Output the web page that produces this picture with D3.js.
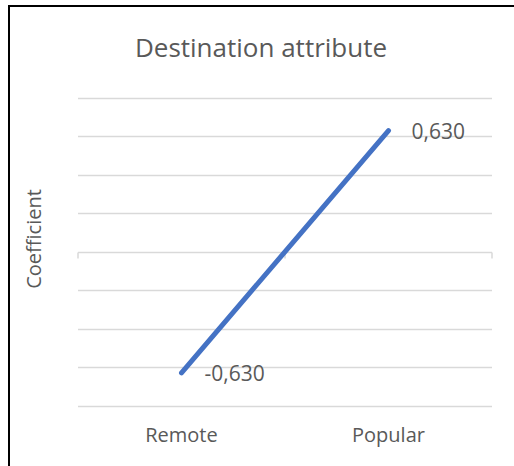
<!DOCTYPE html>
<html>
<head>
<meta charset="utf-8">
<script src="https://cdn.jsdelivr.net/npm/d3@7"></script>
<style>
  body { margin: 0; background: #fff; }
  text { font-family: "Open Sans", sans-serif; fill: #595959; }
</style>
</head>
<body>
<div id="chart"></div>
<script>
// Data
var categories = ["Remote", "Popular"];
var values = [-0.630, 0.630];
var labels = ["-0,630", "0,630"];
var gridTicks = [-0.8, -0.6, -0.4, -0.2, 0, 0.2, 0.4, 0.6, 0.8];

var W = 514, H = 466;
var plot = {left: 78, right: 492, top: 98, bottom: 405.5};

var svg = d3.select("#chart")
  .append("svg")
  .attr("width", W)
  .attr("height", H);

// outer frame (only left/top visible in picture)
svg.append("rect")
  .attr("x", 9).attr("y", 6)
  .attr("width", W + 10).attr("height", H + 10)
  .attr("fill", "#fff")
  .attr("stroke", "#000")
  .attr("stroke-width", 2);

var x = d3.scaleBand()
  .domain(categories)
  .range([plot.left, plot.right]);

var y = d3.scaleLinear()
  .domain([-0.8, 0.8])
  .range([plot.bottom, plot.top]);

// gridlines
svg.append("g")
  .selectAll("line")
  .data(gridTicks.filter(function(d) { return d !== 0; }))
  .enter().append("line")
  .attr("x1", plot.left).attr("x2", plot.right)
  .attr("y1", function(d) { return Math.round(y(d)) + 0.5; })
  .attr("y2", function(d) { return Math.round(y(d)) + 0.5; })
  .attr("stroke", "#d9d9d9")
  .attr("stroke-width", 1.3);

// category axis on zero line
var xAxis = svg.append("g")
  .attr("transform", "translate(0," + (Math.round(y(0)) + 0.5) + ")");
xAxis.append("line")
  .attr("x1", plot.left).attr("x2", plot.right)
  .attr("stroke", "#d9d9d9").attr("stroke-width", 1.5);
var bounds = categories.map(function(c) { return x(c); }).concat([plot.right]);
xAxis.selectAll(".tick")
  .data(bounds)
  .enter().append("line")
  .attr("x1", function(d) { return d; }).attr("x2", function(d) { return d; })
  .attr("y1", 0).attr("y2", 6)
  .attr("stroke", "#d9d9d9").attr("stroke-width", 1.5);

// category labels at bottom
svg.append("g")
  .selectAll("text")
  .data(categories)
  .enter().append("text")
  .attr("x", function(d) { return x(d) + x.bandwidth() / 2; })
  .attr("y", 442)
  .attr("text-anchor", "middle")
  .style("font-size", "20px")
  .text(function(d) { return d; });

// line
var pts = categories.map(function(c, i) { return [x(c) + x.bandwidth() / 2, y(values[i])]; });
svg.append("path")
  .attr("d", d3.line()(pts))
  .attr("fill", "none")
  .attr("stroke", "#4472C4")
  .attr("stroke-width", 5)
  .attr("stroke-linecap", "round");

// data labels
svg.append("g")
  .selectAll("text")
  .data(pts)
  .enter().append("text")
  .attr("x", function(d) { return d[0] + 23; })
  .attr("y", function(d) { return d[1] + 8; })
  .style("font-size", "21px")
  .text(function(d, i) { return labels[i]; });

// title
svg.append("text")
  .attr("x", 261)
  .attr("y", 57)
  .attr("text-anchor", "middle")
  .style("font-size", "26px")
  .text("Destination attribute");

// y axis title
svg.append("text")
  .attr("transform", "translate(41,239) rotate(-90)")
  .attr("text-anchor", "middle")
  .style("font-size", "20px")
  .text("Coefficient");
</script>
</body>
</html>
